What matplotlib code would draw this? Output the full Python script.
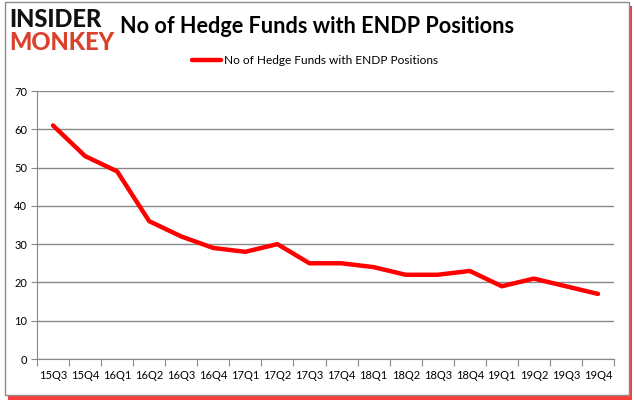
import matplotlib
matplotlib.use('Agg')
import matplotlib.pyplot as plt
from matplotlib.patches import Rectangle

quarters = ['15Q3', '15Q4', '16Q1', '16Q2', '16Q3', '16Q4', '17Q1', '17Q2', '17Q3',
            '17Q4', '18Q1', '18Q2', '18Q3', '18Q4', '19Q1', '19Q2', '19Q3', '19Q4']
funds = [61, 53, 49, 36, 32, 29, 28, 30, 25, 25, 24, 22, 22, 23, 19, 21, 19, 17]
title = 'No of Hedge Funds with ENDP Positions'

plt.rcParams['font.family'] = ['Lato', 'DejaVu Sans']

W, H = 634, 404
fig = plt.figure(figsize=(W / 100, H / 100), dpi=100)

# frame with red shadow
fig.patches.append(Rectangle((8 / W, 1 - 400 / H), 624 / W, 394 / H, transform=fig.transFigure,
                             facecolor='#ff1a1a', edgecolor='none', alpha=0.85, zorder=0))
fig.patches.append(Rectangle((5 / W, 1 - 395 / H), 624 / W, 393 / H, transform=fig.transFigure,
                             facecolor='white', edgecolor='#8a8a8a', linewidth=1, zorder=1))

ax = fig.add_axes([37 / W, 1 - 359 / H, (614 - 37) / W, (359 - 91) / H])
ax.set_zorder(2)
ax.plot(range(len(funds)), funds, color='#ff0000', linewidth=3.2, solid_joinstyle='round',
        solid_capstyle='round', label=title)

ax.set_xlim(-0.5, len(funds) - 0.5)
ax.set_ylim(0, 70)
ax.set_yticks(range(0, 71, 10))
ax.yaxis.grid(True, color='#888888', linewidth=1)
ax.set_axisbelow(True)

ax.set_xticks([i + 0.5 for i in range(-1, len(funds))])
ax.set_xticklabels([])
ax.set_xticks(range(len(funds)), minor=True)
ax.set_xticklabels(quarters, minor=True)
ax.tick_params(axis='x', which='major', length=5, color='#888888')
ax.tick_params(axis='x', which='minor', length=0, pad=8, labelsize=8)
ax.tick_params(axis='y', length=4, color='#888888', labelsize=8, pad=3)

for s in ['top', 'right']:
    ax.spines[s].set_visible(False)
for s in ['left', 'bottom']:
    ax.spines[s].set_color('#888888')

fig.legend(*ax.get_legend_handles_labels(), loc='center', bbox_to_anchor=(315 / W, 1 - 61 / H),
           frameon=False, fontsize=8.6, handlelength=2.5, handletextpad=0.25)

fig.text(120 / W, 1 - 33 / H, title, fontsize=15.6, fontweight='bold', va='baseline', ha='left')
fig.text(9 / W, 1 - 27 / H, 'INSIDER', fontsize=17, fontweight='black', va='baseline', ha='left',
         color='#111111')
fig.text(9 / W, 1 - 50 / H, 'MONKEY', fontsize=17, fontweight='black', va='baseline', ha='left',
         color='#d9412c')

fig.savefig('out.png', dpi=100)
